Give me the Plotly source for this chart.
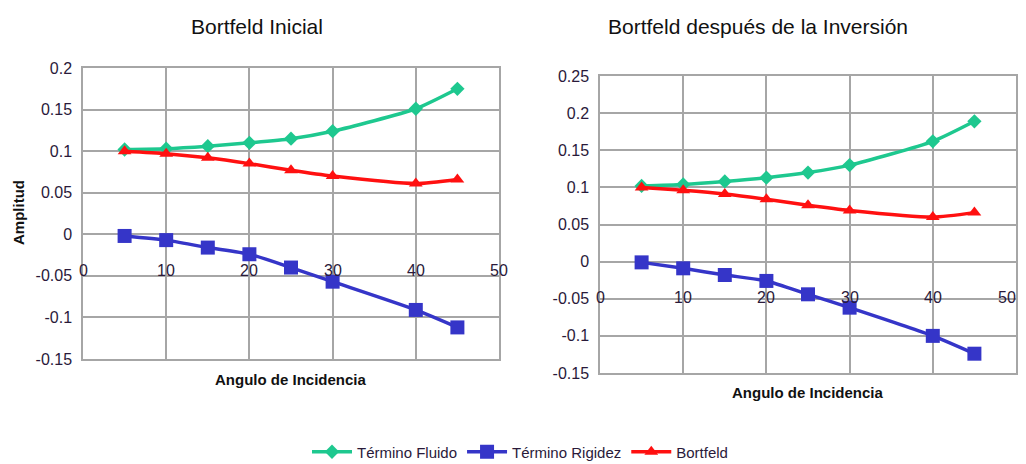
import plotly.graph_objects as go

angles = [5, 10, 15, 20, 25, 30, 40, 45]

# Left: Bortfeld Inicial
fluido_ini = [0.102, 0.103, 0.106, 0.110, 0.115, 0.124, 0.151, 0.175]
rigidez_ini = [-0.002, -0.007, -0.016, -0.024, -0.040, -0.057, -0.091, -0.112]
bortfeld_ini = [0.100, 0.097, 0.092, 0.085, 0.077, 0.070, 0.061, 0.066]

# Right: Bortfeld después de la Inversión
fluido_inv = [0.102, 0.104, 0.108, 0.113, 0.120, 0.130, 0.162, 0.189]
rigidez_inv = [-0.001, -0.009, -0.018, -0.026, -0.044, -0.062, -0.100, -0.124]
bortfeld_inv = [0.100, 0.096, 0.091, 0.084, 0.076, 0.069, 0.060, 0.066]

x_ticks = [0, 10, 20, 30, 40, 50]
y_ticks_left = [0.2, 0.15, 0.1, 0.05, 0, -0.05, -0.1, -0.15]
y_ticks_right = [0.25, 0.2, 0.15, 0.1, 0.05, 0, -0.05, -0.1, -0.15]

series_names = ["Término Fluido", "Término Rigidez", "Bortfeld"]
colors = ["#1ec88f", "#3535c8", "#ff1010"]
symbols = ["diamond", "square", "triangle-up"]
msizes = [11, 14, 12]

FONT = "Liberation Sans, Arial, sans-serif"
W, H = 1026, 464
OFF = 8  # page body margin


def px(x):
    return (x - OFF) / W


def py(y):
    return 1 - (y - OFF) / H


fig = go.Figure()

for axis_i, data in enumerate([(fluido_ini, rigidez_ini, bortfeld_ini),
                               (fluido_inv, rigidez_inv, bortfeld_inv)]):
    xa = "x" if axis_i == 0 else "x2"
    ya = "y" if axis_i == 0 else "y2"
    for k, vals in enumerate(data):
        fig.add_trace(go.Scatter(
            x=angles, y=vals, name=series_names[k],
            mode="lines+markers",
            line=dict(color=colors[k], width=3.5, shape="spline", smoothing=0.6),
            marker=dict(symbol=symbols[k], size=msizes[k], color=colors[k]),
            xaxis=xa, yaxis=ya,
            showlegend=(axis_i == 0),
        ))

grid = "#a6a6a6"
tickfont = dict(family=FONT, size=16, color="#2a1a3a")

common_x = dict(range=[0, 50], tickvals=x_ticks, showticklabels=False,
                showgrid=True, gridcolor=grid, gridwidth=1.5,
                showline=True, linecolor=grid, linewidth=1.5, mirror=True,
                zeroline=False, ticks="", automargin=False)
common_y = dict(showgrid=True, gridcolor=grid, gridwidth=1.5,
                showline=True, linecolor=grid, linewidth=1.5, mirror=True,
                zeroline=False, ticks="", tickfont=tickfont, automargin=False,
                ticklabelstandoff=6)

fig.update_layout(
    width=W, height=H,
    margin=dict(l=0, r=0, t=0, b=0),
    paper_bgcolor="white", plot_bgcolor="white",
    font=dict(family=FONT, color="#222"),
    xaxis=dict(domain=[px(83), px(499)], anchor="y", **common_x),
    yaxis=dict(domain=[py(359), py(68)], anchor="x", range=[-0.15, 0.2],
               tickvals=y_ticks_left, ticktext=[f"{v:g}" for v in y_ticks_left],
               **common_y),
    xaxis2=dict(domain=[px(600), px(1016)], anchor="y2", **common_x),
    yaxis2=dict(domain=[py(373), py(76)], anchor="x2", range=[-0.15, 0.25],
                tickvals=y_ticks_right, ticktext=[f"{v:g}" for v in y_ticks_right],
                **common_y),
    legend=dict(orientation="h", x=px(520), xanchor="center", y=py(452), yanchor="middle",
                font=dict(family=FONT, size=15, color="#2a1a3a"),
                itemwidth=40, tracegroupgap=0),
)

annotations = []
# x tick labels placed under the zero line (Excel style)
for xr, yr in [("x", "y"), ("x2", "y2")]:
    for t in x_ticks:
        edge = (xr == "x2" and t == x_ticks[-1])
        annotations.append(dict(x=t, y=0, xref=xr, yref=yr, text=str(t),
                                showarrow=False, yshift=-36,
                                xanchor="right" if edge else "center",
                                xshift=2 if edge else 0,
                                font=tickfont))

# titles
annotations.append(dict(x=px(257), y=py(27), xref="paper", yref="paper",
                        xanchor="center", yanchor="middle",
                        text="Bortfeld Inicial", showarrow=False,
                        font=dict(family=FONT, size=21, color="#111")))
annotations.append(dict(x=px(758), y=py(27), xref="paper", yref="paper",
                        xanchor="center", yanchor="middle",
                        text="Bortfeld después de la Inversión", showarrow=False,
                        font=dict(family=FONT, size=21, color="#111")))
# axis titles
annotations.append(dict(x=px(291), y=py(379), xref="paper", yref="paper",
                        xanchor="center", yanchor="middle",
                        text="<b>Angulo de Incidencia</b>", showarrow=False,
                        font=dict(family=FONT, size=15, color="#111")))
annotations.append(dict(x=px(808), y=py(392), xref="paper", yref="paper",
                        xanchor="center", yanchor="middle",
                        text="<b>Angulo de Incidencia</b>", showarrow=False,
                        font=dict(family=FONT, size=15, color="#111")))
annotations.append(dict(x=px(18), y=py(213), xref="paper", yref="paper",
                        xanchor="center", yanchor="middle",
                        text="<b>Amplitud</b>", showarrow=False, textangle=-90,
                        font=dict(family=FONT, size=15, color="#111")))

fig.update_layout(annotations=annotations)

fig.write_html("out.html")
